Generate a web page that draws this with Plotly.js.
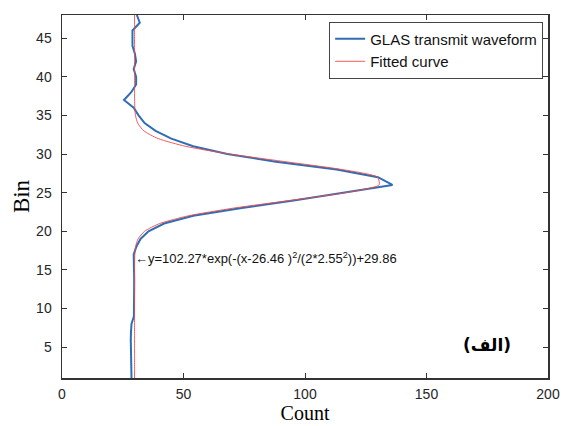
<!DOCTYPE html>
<html>
<head>
<meta charset="utf-8">
<script src="https://cdn.plot.ly/plotly-3.0.1.min.js"></script>
<style>html,body{margin:0;padding:0;background:#fff;}#chart{width:564px;height:426px;}</style>
</head>
<body>
<div id="chart"></div>
<script>
// Bin numbers (y axis)
const bins = [1,2,3,4,5,6,7,8,9,10,11,12,13,14,15,16,17,18,19,20,21,22,23,24,25,26,27,28,29,30,31,32,33,34,35,36,37,38,39,40,41,42,43,44,45,46,47,48];
// GLAS transmit waveform counts
const waveform = [28.6,28.5,28.4,28.4,28.3,28.3,28.4,28.6,29.6,29.7,29.7,29.7,29.7,29.7,29.7,29.6,29.5,30.6,32.3,35.6,42,54,74,96,117,136,130,113,88,68,54,45,38.5,34,31.5,29.5,25.5,28.5,30.5,30.5,29.5,30.5,30,29,29,29,32,30.8];
// Fitted Gaussian curve counts
const fitted = [29.86,29.86,29.86,29.86,29.86,29.86,29.86,29.86,29.86,29.86,29.86,29.86,29.86,29.86,29.86,29.88,29.97,30.28,31.28,33.99,40.19,52.02,70.60,94.09,116.67,130.48,129.86,115.08,92.13,68.88,50.83,39.52,33.67,31.15,30.24,29.95,29.88,29.86,29.86,29.86,29.86,29.86,29.86,29.86,29.86,29.86,29.86,29.86];
const xTicks = [0,50,100,150,200];
const yTicks = [5,10,15,20,25,30,35,40,45];
const seriesNames = ['GLAS transmit waveform','Fitted curve'];
const fitText = '\u2190y=102.27*exp(-(x-26.46 )<sup>2</sup>/(2*2.55<sup>2</sup>))+29.86';
const panelLabel = '(الف)';

const axisColor = '#333333';
const tickFont = {family:'Liberation Sans, Arial, sans-serif', size:14, color:'#262626'};

const traces = [
  {x: waveform, y: bins, type:'scatter', mode:'lines', name: seriesNames[0],
   line:{color:'#2f6db5', width:2}},
  {x: fitted, y: bins, type:'scatter', mode:'lines', name: seriesNames[1],
   line:{color:'#f04a4a', width:0.9, shape:'spline', smoothing:0.6}}
];

const layout = {
  width:564, height:426,
  margin:{l:62, r:16, t:15, b:48},
  paper_bgcolor:'#ffffff', plot_bgcolor:'#ffffff',
  showlegend:true,
  legend:{x:0.99, y:0.982, xanchor:'right', yanchor:'top',
    bgcolor:'#ffffff', bordercolor:'#444444', borderwidth:1,
    font:{family:'Liberation Sans, Arial, sans-serif', size:15, color:'#111111'},
    tracegroupgap:0, itemwidth:30},
  xaxis:{range:[0,200], tickvals:xTicks, ticktext:xTicks.map(String),
    showgrid:false, zeroline:false, showline:true, linecolor:axisColor, linewidth:1.5,
    mirror:'ticks', ticks:'inside', ticklen:5, tickcolor:axisColor, tickwidth:1,
    tickfont:tickFont, ticklabelstandoff:3,
    title:{text:'Count', font:{family:'Liberation Serif, Times New Roman, serif', size:20, color:'#000000'}, standoff:1},
    automargin:false, fixedrange:true},
  yaxis:{range:[1,48], tickvals:yTicks, ticktext:yTicks.map(String),
    showgrid:false, zeroline:false, showline:true, linecolor:axisColor, linewidth:1.5,
    mirror:'ticks', ticks:'inside', ticklen:5, tickcolor:axisColor, tickwidth:1,
    tickfont:tickFont, ticklabelstandoff:6,
    title:{text:'Bin', font:{family:'Liberation Serif, Times New Roman, serif', size:23, color:'#000000'}, standoff:0},
    automargin:false, fixedrange:true},
  annotations:[
    {x:29.2, y:16.6, xref:'x', yref:'y', text:fitText, showarrow:false,
     xanchor:'left', yanchor:'middle',
     font:{family:'Liberation Sans, Arial, sans-serif', size:13, color:'#111111'}},
    {x:0.928, y:0.091, xref:'paper', yref:'paper', text:'<b>'+panelLabel+'</b>', showarrow:false,
     xanchor:'right', yanchor:'middle',
     font:{family:'DejaVu Sans, Noto Sans, sans-serif', size:17, color:'#000000'}}
  ]
};

Plotly.newPlot('chart', traces, layout, {displayModeBar:false, staticPlot:true});
</script>
</body>
</html>
